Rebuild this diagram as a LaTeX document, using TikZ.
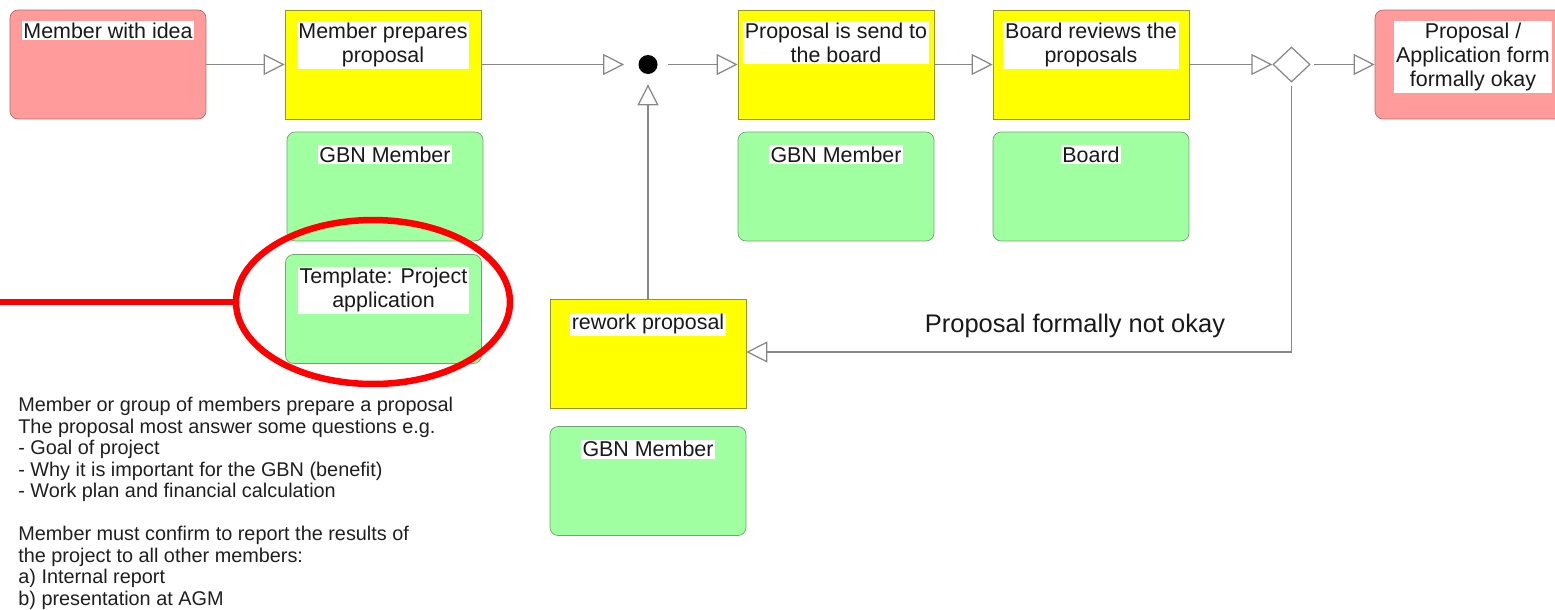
\documentclass[tikz,border=0pt]{standalone}
\usepackage{fontspec}
\setmainfont{Liberation Sans}
\usetikzlibrary{arrows.meta,shapes.geometric}
\definecolor{eventpink}{RGB}{255,155,155}
\definecolor{eventline}{RGB}{185,105,105}
\definecolor{taskyellow}{RGB}{255,255,0}
\definecolor{taskline}{RGB}{150,150,40}
\definecolor{rolegreen}{RGB}{160,255,160}
\definecolor{roleline}{RGB}{110,165,110}
\definecolor{flowgray}{RGB}{135,135,135}
\definecolor{markred}{RGB}{255,0,0}

\begin{document}
\begin{tikzpicture}[x=0.02cm, y=-0.02cm,
    box/.style={rectangle, minimum width=3.92cm, minimum height=2.18cm, inner sep=0pt},
    event/.style={box, fill=eventpink, draw=eventline, rounded corners=0.16cm},
    task/.style={box, fill=taskyellow, draw=taskline},
    role/.style={box, fill=rolegreen, draw=roleline, rounded corners=0.16cm},
    boxtext/.style={anchor=north, fill=white, inner sep=1pt, align=center, text=black!90,
        font=\fontsize{12.2}{13.7}\selectfont},
    flow/.style={draw=flowgray, line width=0.7pt, -{Triangle[length=0.42cm, width=0.42cm, fill=white]}}]

    \useasboundingbox (0,0) rectangle (1555,609);

    % Top row: events and tasks
    \node[event] (idea) at (108,64.5) {};
    \node[task] (prep) at (383,64.5) {};
    \node[task] (send) at (836,64.5) {};
    \node[task] (review) at (1091,64.5) {};
    \node[event] (okay) at (1473,64.5) {};

    % Roles and documents below the tasks
    \node[role] (prepRole) at (385,186.5) {};
    \node[role] (template) at (383.5,309) {};
    \node[role] (sendRole) at (836,186.5) {};
    \node[role] (boardRole) at (1091,186.5) {};

    % Rework branch
    \node[task] (rework) at (648,354) {};
    \node[role] (reworkRole) at (648,481) {};

    % Join and decision
    \node[circle, fill=black, minimum size=0.38cm, inner sep=0pt] (join) at (648,64.5) {};
    \node[diamond, draw=flowgray, fill=white, line width=0.7pt, minimum width=0.74cm,
        minimum height=0.70cm, inner sep=0pt] (check) at (1291.5,64.5) {};

    % Box labels
    \node[boxtext] (ideaT) at ([yshift=-0.22cm]idea.north) {Member with idea};
    \node[boxtext] (prepT) at ([yshift=-0.22cm]prep.north) {Member prepares\\proposal};
    \node[boxtext] (sendT) at ([yshift=-0.22cm]send.north) {Proposal is send to\\the board};
    \node[boxtext] (reviewT) at ([yshift=-0.22cm]review.north) {Board reviews the\\proposals};
    \node[boxtext] (okayT) at ([yshift=-0.22cm]okay.north) {Proposal /\\Application form\\formally okay};
    \node[boxtext] (prepRoleT) at ([yshift=-0.26cm]prepRole.north) {GBN Member};
    \node[boxtext] (templateT) at ([yshift=-0.24cm]template.north) {Template: Project\\application};
    \node[boxtext] (sendRoleT) at ([yshift=-0.26cm]sendRole.north) {GBN Member};
    \node[boxtext] (boardRoleT) at ([yshift=-0.26cm]boardRole.north) {Board};
    \node[boxtext] (reworkT) at ([yshift=-0.26cm]rework.north) {rework proposal};
    \node[boxtext] (reworkRoleT) at ([yshift=-0.26cm]reworkRole.north) {GBN Member};

    % Flow
    \draw[flow] (idea) -- (prep);
    \draw[flow, shorten >=0.28cm] (prep) -- (join);
    \draw[flow, shorten <=0.2cm] (join) -- (send);
    \draw[flow] (send) -- (review);
    \draw[flow] (review) -- (check);
    \draw[flow, shorten <=0.06cm] (check) -- (okay);
    \draw[flow, shorten <=0.06cm] (check.south) |- ([yshift=0.04cm]rework.east);
    \draw[flow, shorten >=0.2cm] (rework.north) -- (join.south);

    \node[anchor=base, text=black!90, font=\fontsize{14.5}{16}\selectfont] (notokay) at (1075,332)
        {Proposal formally not okay};

    % Red highlight round the template
    \node[ellipse, draw=markred, line width=0.13cm, minimum width=5.48cm, minimum height=3.28cm]
        (mark) at (373,302) {};
    \coordinate (markend) at (0,302);
    \draw[markred, line width=0.12cm] (markend) -- (mark.west);

    % Notes
    \node[anchor=north west, inner sep=0pt, align=left, text=black!88,
        font=\fontsize{11.3}{12.25}\selectfont] (notes) at (18,397)
        {Member or group of members prepare a proposal\\
         The proposal most answer some questions e.g.\\
         - Goal of project\\
         - Why it is important for the GBN (benefit)\\
         - Work plan and financial calculation\\[12.25pt]
         Member must confirm to report the results of\\
         the project to all other members:\\
         a) Internal report\\
         b) presentation at AGM};
\end{tikzpicture}
\end{document}
